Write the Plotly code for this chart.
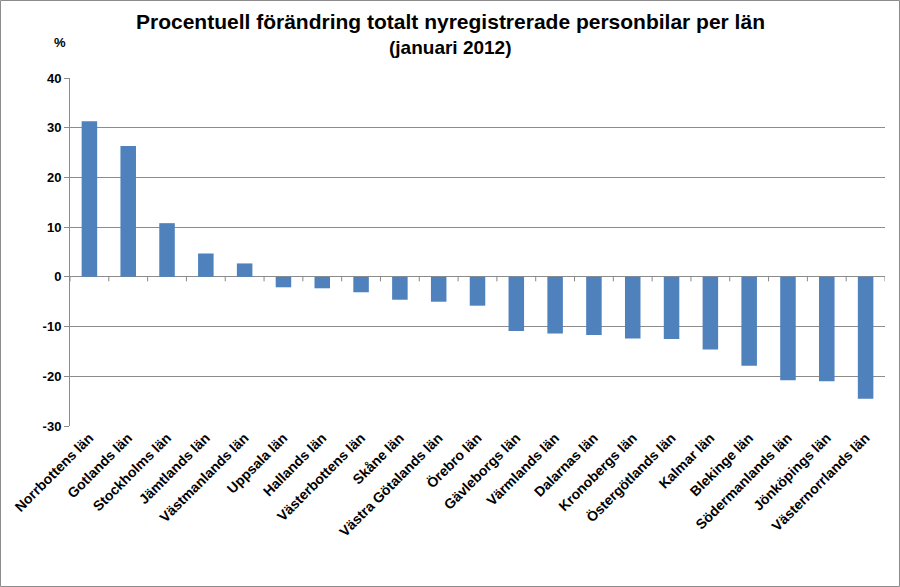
import plotly.graph_objects as go

categories = ["Norrbottens län", "Gotlands län", "Stockholms län", "Jämtlands län",
              "Västmanlands län", "Uppsala län", "Hallands län", "Västerbottens län",
              "Skåne län", "Västra Götalands län", "Örebro län", "Gävleborgs län",
              "Värmlands län", "Dalarnas län", "Kronobergs län", "Östergötlands län",
              "Kalmar län", "Blekinge län", "Södermanlands län", "Jönköpings län",
              "Västernorrlands län"]
values = [31.3, 26.3, 10.8, 4.7, 2.7, -2.1, -2.3, -3.1, -4.6, -5.0, -5.8,
          -10.9, -11.4, -11.7, -12.4, -12.5, -14.6, -17.9, -20.8, -21.0, -24.5]
y_ticks = [-30, -20, -10, 0, 10, 20, 30, 40]
title_lines = ["Procentuell förändring totalt nyregistrerade personbilar per län",
               "(januari 2012)"]

W, H = 900, 587
ML, MR, MT, MB = 70, 15, 78, 161
pw, ph = W - ML - MR, H - MT - MB

fig = go.Figure()
fig.add_trace(go.Bar(x=list(range(len(categories))), y=values,
                     marker=dict(color="#4F81BD", line=dict(width=0)),
                     width=0.4, hoverinfo="skip"))

shapes = []
# outer border
shapes.append(dict(type="rect", xref="paper", yref="paper",
                   x0=-(ML - 0.5) / pw, x1=1 + (MR - 0.5) / pw,
                   y0=-(MB - 0.5) / ph, y1=1 + (MT - 0.5) / ph,
                   line=dict(color="#8c8c8c", width=1), layer="below"))
# category tick marks at zero line
for i in range(len(categories) + 1):
    shapes.append(dict(type="line", xref="x", yref="y", x0=i - 0.5, x1=i - 0.5,
                       y0=0, y1=-0.9, line=dict(color="#888888", width=1)))

font_title = dict(family="Liberation Sans, Arial, sans-serif", size=21, color="black")
annotations = [
    dict(text=f"<b>{title_lines[0]}</b>", xref="paper", yref="paper",
         x=(450 - ML) / pw, y=1 + (MT - 22) / ph, xanchor="center", yanchor="middle",
         showarrow=False, font=font_title),
    dict(text=f"<b>{title_lines[1]}</b>", xref="paper", yref="paper",
         x=(450 - ML) / pw, y=1 + (MT - 48) / ph, xanchor="center", yanchor="middle",
         showarrow=False, font=dict(font_title, size=19)),
    dict(text="<b>%</b>", xref="paper", yref="paper",
         x=(60 - ML) / pw, y=1 + (MT - 42) / ph, xanchor="center", yanchor="middle",
         showarrow=False,
         font=dict(family="Liberation Sans, Arial, sans-serif", size=13, color="black")),
]

fig.update_layout(
    width=W, height=H,
    margin=dict(l=ML, r=MR, t=MT, b=MB, autoexpand=False),
    paper_bgcolor="white", plot_bgcolor="white",
    showlegend=False,
    bargap=0.6,
    shapes=shapes,
    annotations=annotations,
    xaxis=dict(tickmode="array", tickvals=list(range(len(categories))),
               ticktext=[f"<b>{c}</b>" for c in categories],
               tickangle=-45, range=[-0.5, len(categories) - 0.5], automargin=False,
               showgrid=False, zeroline=False, showline=False, ticks="",
               tickfont=dict(family="Liberation Sans, Arial, sans-serif", size=14, color="black"),
               ),
    yaxis=dict(range=[-30, 40], tickvals=y_ticks, ticktext=[f"<b>{v}</b>" for v in y_ticks],
               automargin=False,
               showgrid=True, gridcolor="#8c8c8c", gridwidth=1,
               zeroline=True, zerolinecolor="#8c8c8c", zerolinewidth=1,
               showline=True, linecolor="#8c8c8c", linewidth=1,
               ticks="outside", ticklen=5, tickcolor="#8c8c8c",
               tickfont=dict(family="Liberation Sans, Arial, sans-serif", size=13, color="black")),
)

fig.write_html("out.html", config={"displayModeBar": False},
               post_script="document.body.style.margin='0';document.body.style.overflow='hidden';")
